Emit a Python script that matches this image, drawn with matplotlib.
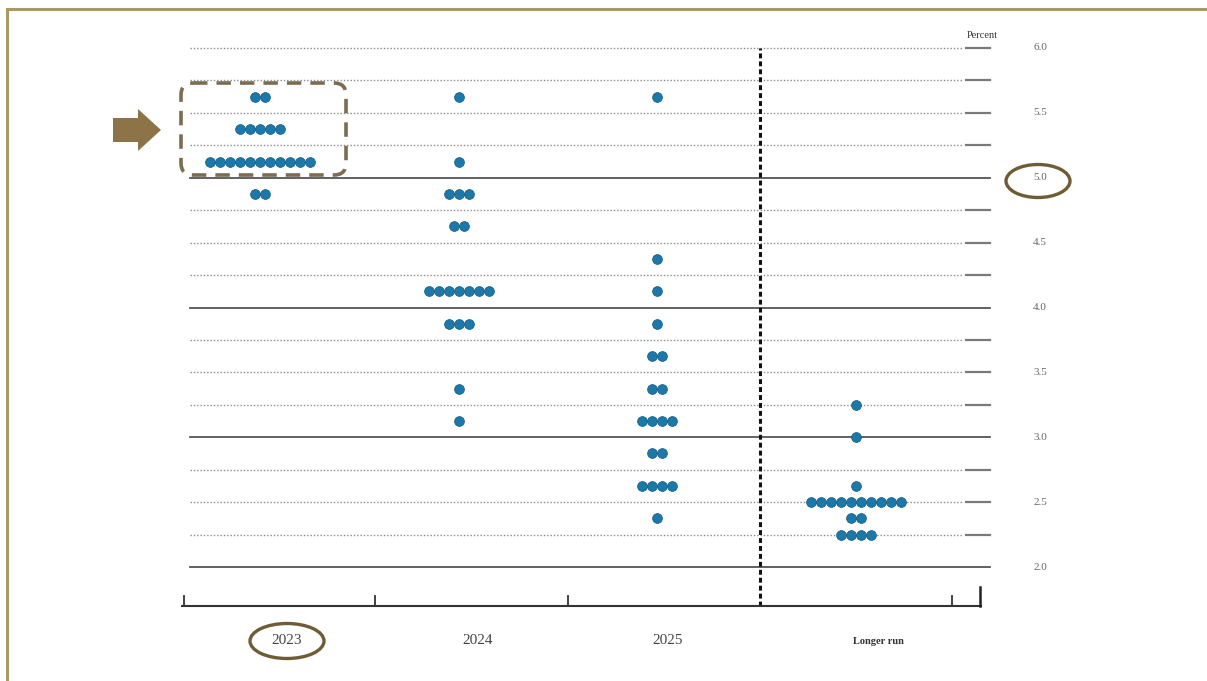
import matplotlib
matplotlib.use('Agg')
import matplotlib.pyplot as plt
from matplotlib.patches import Ellipse, FancyBboxPatch, Polygon

# ---------------- data ----------------
categories = ['2023', '2024', '2025', 'Longer run']
rates_2023 = [5.625, 5.375, 5.125, 4.875]
counts_2023 = [2, 5, 11, 2]
rates_2024 = [5.625, 5.125, 4.875, 4.625, 4.125, 3.875, 3.375, 3.125]
counts_2024 = [1, 1, 3, 2, 7, 3, 1, 1]
rates_2025 = [5.625, 4.375, 4.125, 3.875, 3.625, 3.375, 3.125, 2.875, 2.625, 2.375]
counts_2025 = [1, 1, 1, 1, 2, 2, 4, 2, 4, 1]
rates_lr = [3.25, 3.0, 2.625, 2.5, 2.375, 2.25]
counts_lr = [1, 1, 1, 10, 2, 4]
ytick_values = [2.0, 2.5, 3.0, 3.5, 4.0, 4.5, 5.0, 5.5, 6.0]
ytick_labels = ['2.0', '2.5', '3.0', '3.5', '4.0', '4.5', '5.0', '5.5', '6.0']
grid_values = [2.25, 2.5, 2.75, 3.25, 3.5, 3.75, 4.25, 4.5, 4.75,
               5.25, 5.5, 5.75, 6.0]
solid_values = [2.0, 3.0, 4.0, 5.0]
y_unit_label = 'Percent'

# ---------------- layout ----------------
W, H = 1207, 681
X0, XU = 184.0, 192.0      # px of x=0, px per category
Y6, YU = 48.0, 129.75      # px of 6.0, px per percentage point

def xu(px):
    return (px - X0) / XU

def yu(py):
    return 6.0 - (py - Y6) / YU

fig = plt.figure(figsize=(W / 100, H / 100), dpi=100)
fig.patch.set_facecolor('white')

ax = fig.add_axes([0, 0, 1, 1])
ax.set_xlim(xu(0), xu(W))
ax.set_ylim(yu(H), yu(0))
ax.axis('off')

ov = fig.add_axes([0, 0, 1, 1], zorder=3)
ov.set_xlim(0, W)
ov.set_ylim(H, 0)
ov.axis('off')

serif = ['Liberation Serif', 'DejaVu Serif']

# grid lines
for v in grid_values:
    ax.plot([xu(190), xu(963)], [v, v], ls=(0, (1, 1.4)), color='#8c8c8c',
            lw=1.0, zorder=1)
    ax.plot([xu(966), xu(990)], [v, v], color='#7a7a7a', lw=1.6, zorder=1)
for v in solid_values:
    ax.plot([xu(190), xu(990)], [v, v], color='#555555', lw=1.3, zorder=1)

# vertical dashed separator
ax.plot([xu(760), xu(760)], [yu(606), 6.0], color='#111111',
        ls=(0, (1.6, 1.0)), lw=2.2, zorder=2)

# x baseline and ticks
base = yu(606)
ax.plot([xu(182), xu(981)], [base, base], color='#333333', lw=1.5, zorder=2)
for px in [184, 375, 568, 952]:
    ax.plot([xu(px), xu(px)], [base, yu(596)], color='#333333', lw=1.3, zorder=2)
ax.plot([xu(980), xu(980)], [base, yu(587)], color='#222222', lw=1.8, zorder=2)

# dots
centers = [xu(260), xu(459), xu(657), xu(856)]
spacing = 10.0 / XU
all_rates = [rates_2023, rates_2024, rates_2025, rates_lr]
all_counts = [counts_2023, counts_2024, counts_2025, counts_lr]
for ci, (rates, counts) in enumerate(zip(all_rates, all_counts)):
    xs, ys = [], []
    for r, n in zip(rates, counts):
        for k in range(n):
            xs.append(centers[ci] + (k - (n - 1) / 2) * spacing)
            ys.append(r)
    ax.scatter(xs, ys, s=50, color='#1b78a8', edgecolors='#135c84',
               linewidths=0.5, zorder=4)

# y tick labels
for v, lab in zip(ytick_values, ytick_labels):
    ax.text(xu(1040), v, lab, ha='center', va='center', fontsize=8,
            color='#666666', family=serif)
ax.text(xu(982), yu(35), y_unit_label, ha='center', va='center', fontsize=7.5,
        color='#333333', family=serif)

# category labels
label_pos = [xu(287), xu(478), xu(668), xu(878)]
for lx, cat in zip(label_pos, categories):
    if cat == 'Longer run':
        ax.text(lx, yu(642), cat, ha='center', va='center', fontsize=7.5,
                color='#333333', family=serif, fontweight='bold')
    else:
        ax.text(lx, yu(641), cat, ha='center', va='center', fontsize=11,
                color='#444444', family=serif)

# ---------------- decorations (pixel overlay) ----------------
gold = '#a89a62'
ov.plot([7, W], [9, 9], color=gold, lw=2.2)
ov.plot([7, 7], [9, H], color=gold, lw=2.2)

box = FancyBboxPatch((181, 83), 165, 92, boxstyle='round,pad=0,rounding_size=12',
                     fill=False, edgecolor='#7b6c52', lw=2.6,
                     ls=(0, (4, 2.5)))
ov.add_patch(box)

arrow = Polygon([[113, 118], [138, 118], [138, 109], [161, 130],
                 [138, 151], [138, 142], [113, 142]], closed=True,
                facecolor='#8c7448', edgecolor='none')
ov.add_patch(arrow)

ov.add_patch(Ellipse((1038, 181), 64, 33, fill=False, edgecolor='#6e5c36', lw=2.4))
ov.add_patch(Ellipse((287, 641), 74, 35, fill=False, edgecolor='#6e5c36', lw=2.4))

fig.savefig('out.png', dpi=100, facecolor='white')
